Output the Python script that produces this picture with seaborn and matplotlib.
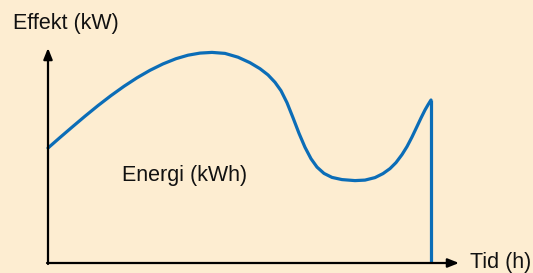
import numpy as np
import pandas as pd
import matplotlib
matplotlib.use("Agg")
import matplotlib.pyplot as plt
import seaborn as sns

# curve (time from origin, power above the time axis)
tid = [0, 12, 24, 37, 50, 63, 76, 89, 102, 115, 128, 140, 152, 164,
       177, 190, 202, 212, 220, 227, 233, 239, 245, 251, 257, 263, 269,
       276, 284, 294, 307,
       317, 327, 335, 342, 348, 354, 359, 364, 369, 373, 377, 380, 383]
effekt = [115, 125.5, 135.8, 146.8, 157.4, 167.4, 176.7, 185.2, 192.7,
          199.1, 204.3, 207.8, 209.9, 210.6,
          209.6, 205.8, 200.3, 194.3, 188.1, 180.7, 172.3, 160.3, 145.3,
          129.7, 115.7, 104.3, 95.9, 89.6, 85.6, 83.4, 82.4,
          82.9, 85.4, 89.4, 94.4, 100.4, 108.4, 116.4, 126, 136.5, 145,
          153, 158.2, 163]
t_slut = 383

bg = "#FDEDD1"
blue = "#0B6DB7"

df = pd.DataFrame({"Tid": tid, "Effekt": effekt})

sns.set_theme(style="white")
plt.rcParams["font.family"] = ["Liberation Sans", "DejaVu Sans"]

fig = plt.figure(figsize=(5.33, 2.73), dpi=100, facecolor=bg)
ax = fig.add_axes([0, 0, 1, 1])
ax.set_facecolor(bg)

sns.lineplot(data=df, x="Tid", y="Effekt", sort=False, color=blue,
             linewidth=2.3, ax=ax)
# closing vertical line at end of the period
ax.plot([t_slut, t_slut], [effekt[-1], 0], color=blue, linewidth=2.3,
        solid_capstyle="butt")

# axes with arrows
ax.annotate("", xy=(0, 215), xytext=(0, -1),
            arrowprops=dict(arrowstyle="-|>,head_length=0.55,head_width=0.22",
                            color="black", lw=1.6, shrinkA=0, shrinkB=0))
ax.annotate("", xy=(411, 0), xytext=(-1, 0),
            arrowprops=dict(arrowstyle="-|>,head_length=0.55,head_width=0.22",
                            color="black", lw=1.6, shrinkA=0, shrinkB=0))

fs = 15.5
ax.text(422, -5, "Tid (h)", fontsize=fs, va="baseline", ha="left", color="#111111")
ax.text(-35, 233.7, "Effekt (kW)", fontsize=fs, va="baseline", ha="left", color="#111111")
ax.text(74, 82.3, "Energi (kWh)", fontsize=fs, va="baseline", ha="left", color="#111111")

ax.set_xlim(-48, 485)
ax.set_ylim(-10, 263)
ax.set_axis_off()

fig.savefig("out.png", dpi=100, facecolor=bg)
